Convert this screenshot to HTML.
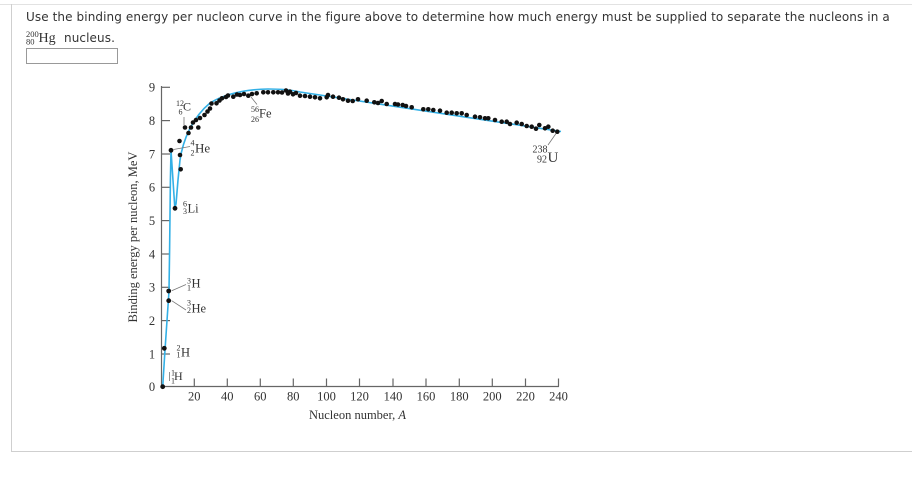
<!DOCTYPE html>
<html>
<head>
<meta charset="utf-8">
<style>
  html,body{margin:0;padding:0;background:#fff;}
  body{width:912px;height:485px;position:relative;overflow:hidden;}
  .topline{position:absolute;left:0;top:4px;width:912px;height:1px;background:#e2e2e2;}
  .frame{position:absolute;left:11px;top:4px;width:910px;height:447px;border-left:1px solid #cfcfcf;border-bottom:1px solid #cfcfcf;}
  .q{position:absolute;left:26px;top:9px;font-family:"DejaVu Sans",Verdana,sans-serif;font-size:12px;letter-spacing:0.1px;color:#333;white-space:nowrap;line-height:16px;}
  svg{position:absolute;left:0;top:0;}
</style>
</head>
<body>
<div class="topline"></div>
<div class="frame"></div>
<div class="q">Use the binding energy per nucleon curve in the figure above to determine how much energy must be supplied to separate the nucleons in a</div>
<svg width="912" height="485" viewBox="0 0 912 485">
  <g font-family="Liberation Serif, serif" fill="#333">
    <text x="26" y="37" font-size="8.5">200</text>
    <text x="26" y="44.5" font-size="8.5">80</text>
    <text x="38.5" y="42" font-size="14">Hg</text>
  </g>
  <text x="64" y="42" font-family="DejaVu Sans, Verdana, sans-serif" font-size="12" letter-spacing="0.1" fill="#333">nucleus.</text>
  <rect x="26.5" y="48.5" width="91" height="15" fill="#fff" stroke="#999" stroke-width="1"/>

  <g stroke="#666" stroke-width="1.2" fill="none">
    <line x1="161.5" y1="86" x2="161.5" y2="387"/>
    <line x1="161" y1="386.5" x2="559" y2="386.5"/>
    <line x1="161.5" y1="87.3" x2="170" y2="87.3"/>
    <line x1="161.5" y1="120.6" x2="170" y2="120.6"/>
    <line x1="161.5" y1="154" x2="170" y2="154"/>
    <line x1="161.5" y1="187.3" x2="170" y2="187.3"/>
    <line x1="161.5" y1="220.6" x2="170" y2="220.6"/>
    <line x1="161.5" y1="254" x2="170" y2="254"/>
    <line x1="161.5" y1="287.3" x2="170" y2="287.3"/>
    <line x1="161.5" y1="320.6" x2="170" y2="320.6"/>
    <line x1="161.5" y1="354" x2="170" y2="354"/>
    <line x1="194.3" y1="378.5" x2="194.3" y2="386.5"/>
    <line x1="227.3" y1="378.5" x2="227.3" y2="386.5"/>
    <line x1="260.3" y1="378.5" x2="260.3" y2="386.5"/>
    <line x1="293.3" y1="378.5" x2="293.3" y2="386.5"/>
    <line x1="326.5" y1="378.5" x2="326.5" y2="386.5"/>
    <line x1="359.5" y1="378.5" x2="359.5" y2="386.5"/>
    <line x1="393" y1="378.5" x2="393" y2="386.5"/>
    <line x1="426" y1="378.5" x2="426" y2="386.5"/>
    <line x1="459.3" y1="378.5" x2="459.3" y2="386.5"/>
    <line x1="492.3" y1="378.5" x2="492.3" y2="386.5"/>
    <line x1="525.5" y1="378.5" x2="525.5" y2="386.5"/>
    <line x1="558.5" y1="378.5" x2="558.5" y2="386.5"/>
  </g>

  <g font-family="Liberation Serif, serif" font-size="12.5" fill="#333" text-anchor="middle">
    <text x="152" y="91.5">9</text>
    <text x="152" y="125">8</text>
    <text x="152" y="158.3">7</text>
    <text x="152" y="191.6">6</text>
    <text x="152" y="225">5</text>
    <text x="152" y="258.3">4</text>
    <text x="152" y="291.6">3</text>
    <text x="152" y="325">2</text>
    <text x="152" y="358.3">1</text>
    <text x="152" y="391">0</text>
    <text x="194.3" y="400.5">20</text>
    <text x="227.3" y="400.5">40</text>
    <text x="260.3" y="400.5">60</text>
    <text x="293.3" y="400.5">80</text>
    <text x="326.5" y="400.5">100</text>
    <text x="359.5" y="400.5">120</text>
    <text x="393" y="400.5">140</text>
    <text x="426" y="400.5">160</text>
    <text x="459.3" y="400.5">180</text>
    <text x="492.3" y="400.5">200</text>
    <text x="525.5" y="400.5">220</text>
    <text x="558.5" y="400.5">240</text>
    <text x="357.5" y="419">Nucleon number, <tspan font-style="italic">A</tspan></text>
    <text x="0" y="0" transform="translate(137,237) rotate(-90)">Binding energy per nucleon, MeV</text>
  </g>

  <path d="M162.7,386.7 L165,350 L169,291 L169.6,250 L170.4,180 L171,150.3 L174.8,207.5 L176,204 L178,180 L180,160 C183,140 192,118 210,103 C225,94 245,89.5 268,89 C284,89 294,90.5 300,92 L561,131.5"
        fill="none" stroke="#33b0e6" stroke-width="1.6" stroke-linejoin="round"/>

  <g stroke="#777" stroke-width="0.8" fill="none">
    <line x1="184" y1="117" x2="184" y2="125"/>
    <line x1="173.5" y1="149.5" x2="190" y2="146.5"/>
    <line x1="251" y1="97" x2="257" y2="104.5"/>
    <line x1="171.7" y1="290.7" x2="186" y2="284.5"/>
    <line x1="171.7" y1="300.7" x2="186" y2="310"/>
    <line x1="556" y1="133.5" x2="548" y2="145"/>
    <line x1="169.5" y1="372" x2="169.5" y2="381"/>
  </g>

  <g fill="#111">
    <circle cx="162.7" cy="386.7" r="2.4"/>
    <circle cx="164.3" cy="348.3" r="2.4"/>
    <circle cx="168.7" cy="291" r="2.4"/>
    <circle cx="168.7" cy="300.7" r="2.4"/>
    <circle cx="171" cy="150.3" r="2.4"/>
    <circle cx="175" cy="208.3" r="2.4"/>
    <circle cx="179.5" cy="141" r="2.3"/>
    <circle cx="180" cy="155" r="2.3"/>
    <circle cx="180.7" cy="169.3" r="2.3"/>
    <circle cx="185" cy="127.5" r="2.3"/>
    <circle cx="191" cy="127.5" r="2.3"/>
    <circle cx="198.3" cy="127.5" r="2.3"/>
    <circle cx="188.5" cy="133" r="2.3"/>
    <circle cx="193" cy="122.5" r="2.3"/>
    <circle cx="196" cy="120" r="2.3"/>
    <circle cx="200" cy="118" r="2.3"/>
    <circle cx="204.5" cy="115" r="2.3"/>
    <circle cx="207.5" cy="111.5" r="2.3"/>
    <circle cx="210" cy="108.5" r="2.3"/>
    <circle cx="211.5" cy="103.5" r="2.3"/>
    <circle cx="216.5" cy="103.3" r="2.3"/>
    <circle cx="219.5" cy="100.5" r="2.3"/>
    <circle cx="222" cy="98.3" r="2.3"/>
    <circle cx="226" cy="97" r="2.3"/>
    <circle cx="228" cy="95.5" r="2.3"/>
    <circle cx="233.3" cy="96.7" r="2.3"/>
    <circle cx="237" cy="94.5" r="2.3"/>
    <circle cx="240" cy="95" r="2.3"/>
    <circle cx="244" cy="94" r="2.3"/>
    <circle cx="248.3" cy="95.7" r="2.3"/>
    <circle cx="252" cy="94" r="2.3"/>
    <circle cx="256.7" cy="93.3" r="2.3"/>
    <circle cx="263.3" cy="92.3" r="2.3"/>
    <circle cx="268" cy="92.3" r="2.3"/>
    <circle cx="273.3" cy="92.3" r="2.3"/>
    <circle cx="278" cy="92.3" r="2.3"/>
    <circle cx="282" cy="92.5" r="2.3"/>
    <circle cx="286" cy="90.5" r="2.3"/>
    <circle cx="288" cy="93.5" r="2.3"/>
    <circle cx="290" cy="91.7" r="2.3"/>
    <circle cx="293" cy="94.3" r="2.3"/>
    <circle cx="296" cy="93" r="2.3"/>
    <circle cx="300" cy="95.7" r="2.3"/>
    <circle cx="305" cy="96" r="2.3"/>
    <circle cx="310" cy="96.7" r="2.3"/>
    <circle cx="315" cy="97.3" r="2.3"/>
    <circle cx="320" cy="98.3" r="2.3"/>
    <circle cx="326.7" cy="97.3" r="2.3"/>
    <circle cx="328" cy="95" r="2.3"/>
    <circle cx="333" cy="96.7" r="2.3"/>
    <circle cx="339" cy="97.7" r="2.3"/>
    <circle cx="343" cy="99.3" r="2.3"/>
    <circle cx="348" cy="100.7" r="2.3"/>
    <circle cx="352.7" cy="101" r="2.3"/>
    <circle cx="358" cy="99.3" r="2.3"/>
    <circle cx="366.7" cy="100.7" r="2.3"/>
    <circle cx="374.3" cy="102.3" r="2.3"/>
    <circle cx="378" cy="103" r="2.3"/>
    <circle cx="381.7" cy="101" r="2.3"/>
    <circle cx="386.7" cy="104" r="2.3"/>
    <circle cx="395" cy="104" r="2.3"/>
    <circle cx="398" cy="104.5" r="2.3"/>
    <circle cx="402.7" cy="105" r="2.3"/>
    <circle cx="406" cy="106" r="2.3"/>
    <circle cx="411.7" cy="107.3" r="2.3"/>
    <circle cx="423.3" cy="109.3" r="2.3"/>
    <circle cx="428.3" cy="109.3" r="2.3"/>
    <circle cx="433.3" cy="110" r="2.3"/>
    <circle cx="440" cy="110.7" r="2.3"/>
    <circle cx="446.7" cy="112.7" r="2.3"/>
    <circle cx="451.7" cy="112.7" r="2.3"/>
    <circle cx="456.7" cy="113.3" r="2.3"/>
    <circle cx="461.7" cy="113.3" r="2.3"/>
    <circle cx="466.7" cy="115" r="2.3"/>
    <circle cx="475" cy="116.7" r="2.3"/>
    <circle cx="480" cy="117.3" r="2.3"/>
    <circle cx="485" cy="118.3" r="2.3"/>
    <circle cx="488.3" cy="118.3" r="2.3"/>
    <circle cx="495" cy="120" r="2.3"/>
    <circle cx="501.7" cy="121.7" r="2.3"/>
    <circle cx="506.7" cy="121.7" r="2.3"/>
    <circle cx="510" cy="124" r="2.3"/>
    <circle cx="516.7" cy="122.7" r="2.3"/>
    <circle cx="521.7" cy="124" r="2.3"/>
    <circle cx="526.7" cy="126" r="2.3"/>
    <circle cx="531.7" cy="126.7" r="2.3"/>
    <circle cx="536" cy="128.7" r="2.3"/>
    <circle cx="539.3" cy="125" r="2.3"/>
    <circle cx="545" cy="128.3" r="2.3"/>
    <circle cx="548.3" cy="126.7" r="2.3"/>
    <circle cx="552.7" cy="130.7" r="2.3"/>
    <circle cx="557.3" cy="131.7" r="2.3"/>
  </g>

  <g font-family="Liberation Serif, serif" fill="#333">
    <text x="176" y="106" font-size="8">12</text>
    <text x="178.5" y="114.5" font-size="8">6</text>
    <text x="183" y="110.7" font-size="12">C</text>
    <text x="190.5" y="145.5" font-size="8">4</text>
    <text x="190.5" y="155.5" font-size="8">2</text>
    <text x="195" y="152.7" font-size="13">He</text>
    <text x="251" y="112" font-size="8">56</text>
    <text x="251" y="122" font-size="8">26</text>
    <text x="259" y="117.5" font-size="12.5">Fe</text>
    <text x="183" y="206.3" font-size="8">6</text>
    <text x="183" y="213.8" font-size="8">3</text>
    <text x="187.5" y="212.5" font-size="12.5">Li</text>
    <text x="187" y="283.5" font-size="8">3</text>
    <text x="187" y="290.5" font-size="8">1</text>
    <text x="191.5" y="287.5" font-size="12.5">H</text>
    <text x="187" y="305.5" font-size="8">3</text>
    <text x="187" y="313" font-size="8">2</text>
    <text x="191.5" y="312.5" font-size="12.5">He</text>
    <text x="176.5" y="350.5" font-size="8">2</text>
    <text x="176.5" y="357.5" font-size="8">1</text>
    <text x="181" y="356.5" font-size="12.5">H</text>
    <text x="171" y="375.5" font-size="8">1</text>
    <text x="171" y="383.5" font-size="8">1</text>
    <text x="174" y="379.8" font-size="12">H</text>
    <text x="532.5" y="152.5" font-size="10">238</text>
    <text x="537" y="162.5" font-size="10">92</text>
    <text x="547.5" y="162" font-size="15">U</text>
  </g>
</svg>
</body>
</html>
